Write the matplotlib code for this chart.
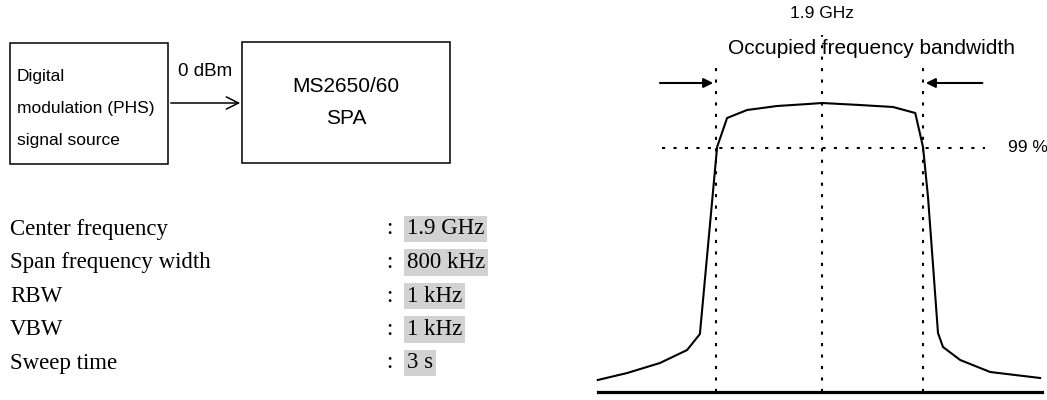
import matplotlib.pyplot as plt
from matplotlib.patches import Rectangle

plt.rcParams['font.family'] = ['Liberation Sans', 'DejaVu Sans']

# measurement settings table
param_labels = ['Center frequency', 'Span frequency width', 'RBW', 'VBW', 'Sweep time']
param_values = ['1.9 GHz', '800 kHz', '1 kHz', '1 kHz', '3 s']

# spectrum trace: offset from 1.9 GHz (kHz) and relative level (dB)
freq_khz = [-404, -351, -292, -243, -220, -189, -171, -135, -81, -25, 0,
            68, 128, 168, 182, 191, 209, 218, 249, 303, 393]
level_db = [-69.25, -67.5, -65.0, -61.75, -57.75, -11.0, -3.75, -1.75, -0.75, -0.25, 0.0,
            -0.5, -1.0, -2.5, -11.0, -23.5, -57.5, -61.0, -64.25, -67.25, -68.75]
floor_khz = [-404, 396]
floor_db = -72.25
obw_edges = [-191, 182]
level_99 = -11.25
line_99_khz = [-288, 294]

fig = plt.figure(figsize=(10.47, 4), dpi=100)

# ---- left: block diagram and settings (pixel coordinates) ----
axl = fig.add_axes([0, 0, 560 / 1047, 1])
axl.set_xlim(0, 560)
axl.set_ylim(400, 0)
axl.axis('off')

axl.add_patch(Rectangle((10, 43), 158, 121, fill=False, lw=1.1, ec='black'))
axl.add_patch(Rectangle((242, 42), 208, 121, fill=False, lw=1.1, ec='black'))
axl.annotate('', xy=(243, 103), xytext=(168, 103),
             arrowprops=dict(arrowstyle='->', lw=1.1, color='black', mutation_scale=22))
for txt, y in zip(['Digital', 'modulation (PHS)', 'signal source'], [76, 108, 140]):
    axl.text(17, y, txt, fontsize=12.5, va='center', ha='left')
axl.text(205, 72, '0 dBm', fontsize=13.5, va='center', ha='center')
axl.text(346, 87, 'MS2650/60', fontsize=15, va='center', ha='center')
axl.text(346, 119, 'SPA', fontsize=15, va='center', ha='center')

for i, (lab, val) in enumerate(zip(param_labels, param_values)):
    y = 229 + 33.5 * i
    axl.text(10, y, lab, fontsize=16.5, family='Liberation Serif', va='center', ha='left')
    axl.text(386, y, ':', fontsize=16.5, family='Liberation Serif', va='center', ha='left')
    axl.text(407, y, val, fontsize=16.5, family='Liberation Serif', va='center', ha='left',
             bbox=dict(boxstyle='square,pad=0.12', fc='#d2d2d2', ec='none'))

# ---- right: occupied bandwidth sketch ----
ax = fig.add_axes([588.9 / 1047, 5 / 400, 466.2 / 1047, 392 / 400])
ax.set_xlim(-420, 420)
ax.set_ylim(-73, 25)
ax.axis('off')

ax.plot(freq_khz, level_db, color='black', lw=1.5)
ax.plot(floor_khz, [floor_db, floor_db], color='black', lw=2.3)

for f in obw_edges:
    ax.plot([f, f], [floor_db, 10.25], color='black', lw=1.5, ls=(0, (1.5, 4)))
ax.plot([0, 0], [floor_db, 17], color='black', lw=1.5, ls=(0, (1.5, 4)))
ax.plot(line_99_khz, [level_99, level_99], color='black', lw=1.5, ls=(0, (1.5, 4)))

arrow = dict(arrowstyle='-|>', lw=1.5, color='black', mutation_scale=14)
ax.annotate('', xy=(obw_edges[0], 5), xytext=(-297, 5), arrowprops=arrow)
ax.annotate('', xy=(obw_edges[1], 5), xytext=(294, 5), arrowprops=arrow)

ax.text(0, 22.5, '1.9 GHz', fontsize=12.5, ha='center', va='center')
ax.text(89, 13.75, 'Occupied frequency bandwidth', fontsize=15, ha='center', va='center')
ax.text(335, level_99, '99 %', fontsize=12.5, ha='left', va='center', clip_on=False)

fig.savefig('out.png', dpi=100)
